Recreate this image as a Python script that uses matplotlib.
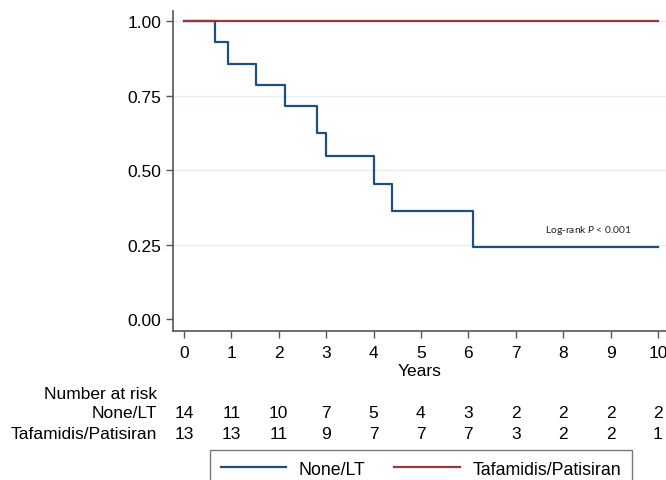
import matplotlib.pyplot as plt

# Kaplan-Meier: tempos e sobrevida
tempo_none = [0, 0.65, 0.92, 1.53, 2.13, 2.81, 3.0, 4.0, 4.39, 6.10, 10.0]
surv_none = [1.0, 0.929, 0.857, 0.786, 0.714, 0.625, 0.547, 0.455, 0.364, 0.243, 0.243]
tempo_tafa = [0, 10.0]
surv_tafa = [1.0, 1.0]

anos = list(range(0, 11))
risco_none = [14, 11, 10, 7, 5, 4, 3, 2, 2, 2, 2]
risco_tafa = [13, 13, 11, 9, 7, 7, 7, 3, 2, 2, 1]

azul = '#1f4e7f'
vermelho = '#98363c'
fs = 12.5

plt.rcParams['font.family'] = ['Liberation Sans', 'DejaVu Sans']
plt.rcParams['mathtext.fontset'] = 'custom'
plt.rcParams['mathtext.it'] = 'Lato:italic'
plt.rcParams['mathtext.rm'] = 'Lato'

fig = plt.figure(figsize=(6.66, 4.81), dpi=100)
ax = fig.add_axes([173 / 666, 1 - 332 / 481, 1 - 173 / 666, (332 - 12) / 481])

for y in [0.25, 0.5, 0.75, 1.0]:
    ax.axhline(y, color='#e6eff2', lw=1, zorder=0)

ax.step(tempo_none, surv_none, where='post', color=azul, lw=1.6, label='None/LT')
ax.step(tempo_tafa, surv_tafa, where='post', color=vermelho, lw=1.6, label='Tafamidis/Patisiran')

ax.set_xlim(-0.23, 10.17)
ax.set_ylim(-0.04, 1.034)
ax.set_yticks([0, 0.25, 0.5, 0.75, 1.0])
ax.set_yticklabels(['0.00', '0.25', '0.50', '0.75', '1.00'])
ax.set_xticks(anos)
ax.tick_params(labelsize=fs, length=5, color='#555555', width=1)
ax.tick_params(axis='x', pad=5)
ax.spines['top'].set_visible(False)
ax.spines['right'].set_visible(False)
for s in ['left', 'bottom']:
    ax.spines[s].set_color('#555555')
    ax.spines[s].set_linewidth(1.2)

ax.set_xlabel('Years', fontsize=fs, labelpad=2)

ax.text(7.62, 0.30, 'Log-rank $P$ < 0.001', fontsize=7.4, color='#222222',
        family='Lato', va='center')

# Tabela de número em risco
trans = ax.get_xaxis_transform()
linhas_y = [-0.194, -0.256, -0.319]
ax.text(-0.57, linhas_y[0], 'Number at risk', transform=trans, ha='right', va='center',
        fontsize=fs, clip_on=False)
ax.text(-0.57, linhas_y[1], 'None/LT', transform=trans, ha='right', va='center',
        fontsize=fs, clip_on=False)
ax.text(-0.57, linhas_y[2], 'Tafamidis/Patisiran', transform=trans, ha='right', va='center',
        fontsize=fs, clip_on=False)
for x, a, b in zip(anos, risco_none, risco_tafa):
    ax.text(x, linhas_y[1], str(a), transform=trans, ha='center', va='center', fontsize=fs)
    ax.text(x, linhas_y[2], str(b), transform=trans, ha='center', va='center', fontsize=fs)

leg = fig.legend(loc='upper left', bbox_to_anchor=(210 / 666, 1 - 451 / 481), ncol=2,
                 fontsize=12.8, frameon=True, fancybox=False, edgecolor='#555555',
                 handlelength=3.7, handletextpad=0.7, columnspacing=1.6,
                 borderpad=0.6, borderaxespad=0)
leg.get_frame().set_linewidth(1.0)

fig.savefig('out.png', dpi=100)
